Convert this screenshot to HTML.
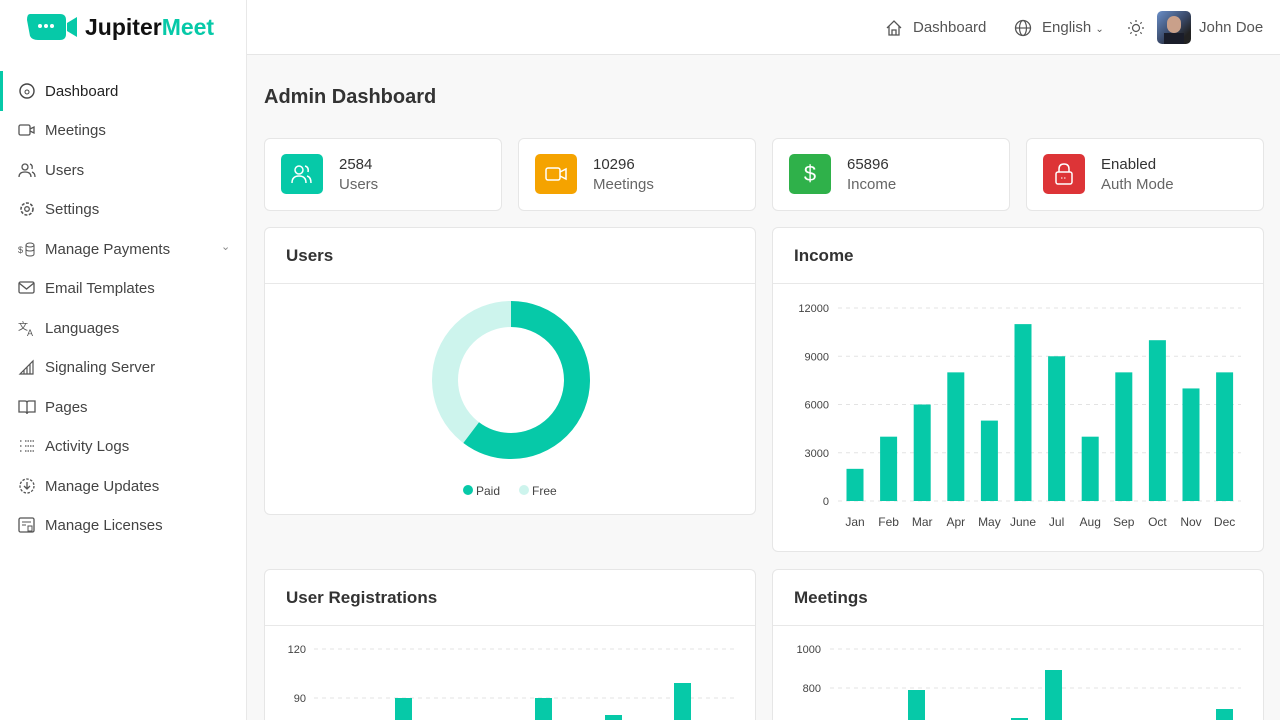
<!DOCTYPE html>
<html style="overflow:hidden;width:1280px;height:720px"><head><meta charset="utf-8"><style>
*{box-sizing:border-box;margin:0;padding:0}
body{width:1280px;height:720px;overflow:hidden;background:#f8f8f8;font-family:"Liberation Sans",sans-serif;color:#333;position:relative}
.side{position:absolute;left:0;top:0;width:247px;height:720px;background:#fff;border-right:1px solid #e8e8e8}
.top{position:absolute;left:247px;top:0;right:0;height:55px;background:#fff;border-bottom:1px solid #e6e6e6}
.nav{position:absolute;left:18px;font-size:15px;color:#444;display:flex;align-items:center}
.nav svg{width:18px;height:18px;margin-right:9px}
.card{position:absolute;background:#fff;border:1px solid #e6e6e6;border-radius:6px;overflow:hidden}
.stat .ic{position:absolute;left:16px;top:15px;width:42px;height:40px;border-radius:5px}
.stat .n{position:absolute;left:74px;top:17px;font-size:15px;color:#333}
.stat .l{position:absolute;left:74px;top:37px;font-size:15px;color:#666}
.ph{height:56px;border-bottom:1px solid #e8e8e8;padding:18px 21px;font-size:17px;font-weight:bold;color:#333}
svg text{font-family:"Liberation Sans",sans-serif}
</style></head><body>
<div class="side">
 <svg style="position:absolute;left:26px;top:12px" width="54" height="31"><path d="M4 2h30q6 0 6 6v14q0 6-6 6H12q-6 0-8-4L1 8q0-6 3-6z" fill="#06c9a8"/><path d="M41 11l10-6v20l-10-6z" fill="#06c9a8"/><circle cx="14" cy="14" r="2" fill="#fff"/><circle cx="20" cy="14" r="2" fill="#fff"/><circle cx="26" cy="14" r="2" fill="#fff"/></svg>
 <div style="position:absolute;left:85px;top:14px;font-size:23px;font-weight:bold;color:#111">Jupiter<span style="color:#06c9a8">Meet</span></div>
 <div style="position:absolute;left:0;top:71px;width:3px;height:40px;background:#06c9a8"></div>
 <div class="nav" style="top:82px;color:#222"><svg viewBox="0 0 18 18"><circle cx="9" cy="9" r="7" fill="none" stroke="#444" stroke-width="1.4"/><circle cx="9" cy="10" r="2" fill="none" stroke="#444"/></svg>Dashboard</div>
 <div class="nav" style="top:121px"><svg viewBox="0 0 18 18"><rect x="1" y="4" width="11" height="10" rx="1.5" fill="none" stroke="#555" stroke-width="1.3"/><path d="M12 8l4-2v6l-4-2" fill="none" stroke="#555" stroke-width="1.3"/></svg>Meetings</div>
 <div class="nav" style="top:161px"><svg viewBox="0 0 18 18"><circle cx="7" cy="6" r="3" fill="none" stroke="#555" stroke-width="1.3"/><path d="M1 16q0-5 6-5t6 5M12 3q3 1 2 5M14 11q3 1 3 5" fill="none" stroke="#555" stroke-width="1.3"/></svg>Users</div>
 <div class="nav" style="top:200px"><svg viewBox="0 0 18 18"><circle cx="9" cy="9" r="6" fill="none" stroke="#555" stroke-width="1.6" stroke-dasharray="3 1.5"/><circle cx="9" cy="9" r="2.3" fill="none" stroke="#555" stroke-width="1.3"/></svg>Settings</div>
 <div class="nav" style="top:240px"><svg viewBox="0 0 18 18"><text x="0" y="13" font-size="9" fill="#555">$</text><ellipse cx="12" cy="5" rx="4" ry="2" fill="none" stroke="#555"/><path d="M8 5v9q0 2 4 2t4-2V5M8 9q0 2 4 2t4-2" fill="none" stroke="#555"/></svg>Manage Payments</div>
 <div style="position:absolute;left:221px;top:240px;font-size:11px;color:#888">⌄</div>
 <div class="nav" style="top:279px"><svg viewBox="0 0 18 18"><rect x="1" y="3" width="15" height="11" rx="1.5" fill="none" stroke="#555" stroke-width="1.3"/><path d="M1 4l7.5 6L16 4" fill="none" stroke="#555" stroke-width="1.3"/></svg>Email Templates</div>
 <div class="nav" style="top:319px"><svg viewBox="0 0 18 18"><text x="0" y="11" font-size="10" fill="#555">文</text><text x="9" y="17" font-size="9" fill="#555">A</text></svg>Languages</div>
 <div class="nav" style="top:358px"><svg viewBox="0 0 18 18"><path d="M2 16L15 3v13zM6 16v-4M9 16V9M12 16V6" fill="none" stroke="#555" stroke-width="1.2"/></svg>Signaling Server</div>
 <div class="nav" style="top:398px"><svg viewBox="0 0 18 18"><path d="M1 3h6q2 0 2 2v11q0-2-2-2H1zM17 3h-6q-2 0-2 2v11q0-2 2-2h6z" fill="none" stroke="#555" stroke-width="1.3"/></svg>Pages</div>
 <div class="nav" style="top:437px"><svg viewBox="0 0 18 18"><path d="M2 4h2M2 9h2M2 14h2M7 4h9M7 9h9M7 14h9" stroke="#555" stroke-width="1.3" stroke-dasharray="1.5 1"/></svg>Activity Logs</div>
 <div class="nav" style="top:477px"><svg viewBox="0 0 18 18"><circle cx="9" cy="9" r="7" fill="none" stroke="#555" stroke-width="1.3" stroke-dasharray="2.5 1.5"/><path d="M9 5v7M6 9l3 3 3-3" fill="none" stroke="#555" stroke-width="1.3"/></svg>Manage Updates</div>
 <div class="nav" style="top:516px"><svg viewBox="0 0 18 18"><rect x="1" y="2" width="15" height="14" rx="1.5" fill="none" stroke="#555" stroke-width="1.3"/><path d="M4 6h9M4 9h4" stroke="#555"/><rect x="10" y="10" width="4" height="5" fill="none" stroke="#555"/></svg>Manage Licenses</div>
</div>
<div class="top">
 <svg style="position:absolute;left:638px;top:19px" width="18" height="18"><path d="M2 9L9 2l7 7M4 7v9h10V7M7 16v-5h4v5" fill="none" stroke="#555" stroke-width="1.3"/></svg>
 <div style="position:absolute;left:666px;top:19px;font-size:15px;color:#555">Dashboard</div>
 <svg style="position:absolute;left:767px;top:19px" width="18" height="18"><circle cx="9" cy="9" r="7.5" fill="none" stroke="#555" stroke-width="1.3"/><ellipse cx="9" cy="9" rx="3.5" ry="7.5" fill="none" stroke="#555" stroke-width="1.2"/><path d="M1.5 9h15" stroke="#555" stroke-width="1.2"/></svg>
 <div style="position:absolute;left:795px;top:19px;font-size:15px;color:#555">English <span style="font-size:10px">⌄</span></div>
 <svg style="position:absolute;left:880px;top:19px" width="18" height="18"><circle cx="9" cy="9" r="3.5" fill="none" stroke="#555" stroke-width="1.2"/><path d="M9 1v2M9 15v2M1 9h2M15 9h2M3.3 3.3l1.4 1.4M13.3 13.3l1.4 1.4M3.3 14.7l1.4-1.4M13.3 4.7l1.4-1.4" stroke="#555" stroke-width="1.2"/></svg>
 <div style="position:absolute;left:910px;top:11px;width:34px;height:33px;border-radius:5px;overflow:hidden;background:linear-gradient(135deg,#6a8fc8,#3a4a6a 50%,#222 80%)"><div style="position:absolute;left:10px;top:5px;width:14px;height:17px;border-radius:7px;background:#c9a08a"></div><div style="position:absolute;left:7px;top:22px;width:20px;height:11px;background:#1a1d2a"></div></div>
 <div style="position:absolute;left:952px;top:19px;font-size:15px;color:#555">John Doe</div>
</div>
<div style="position:absolute;left:264px;top:86px;font-size:20px;font-weight:bold;color:#333">Admin Dashboard</div>

<div class="card stat" style="left:264px;top:138px;width:238px;height:73px"><div class="ic" style="background:#06c9a8"><svg width="42" height="40"><circle cx="18" cy="16" r="4" fill="none" stroke="#fff" stroke-width="1.5"/><path d="M11 29q0-7 7-7t7 7M24 12q4 1 3 6M26 22q4 1 4 7" fill="none" stroke="#fff" stroke-width="1.5"/></svg></div><div class="n">2584</div><div class="l">Users</div></div>
<div class="card stat" style="left:518px;top:138px;width:238px;height:73px"><div class="ic" style="background:#f5a300"><svg width="42" height="40"><rect x="11" y="14" width="14" height="12" rx="2" fill="none" stroke="#fff" stroke-width="1.5"/><path d="M25 18l6-3v10l-6-3" fill="none" stroke="#fff" stroke-width="1.5"/></svg></div><div class="n">10296</div><div class="l">Meetings</div></div>
<div class="card stat" style="left:772px;top:138px;width:238px;height:73px"><div class="ic" style="background:#2fb14a"><div style="color:#fff;font-size:22px;text-align:center;line-height:40px">$</div></div><div class="n">65896</div><div class="l">Income</div></div>
<div class="card stat" style="left:1026px;top:138px;width:238px;height:73px"><div class="ic" style="background:#dd3437"><svg width="42" height="40"><rect x="13" y="18" width="16" height="12" rx="2" fill="none" stroke="#fff" stroke-width="1.5"/><path d="M16 18v-3q0-5 5-5t5 5v3" fill="none" stroke="#fff" stroke-width="1.5"/><path d="M18 24h6" stroke="#fff" stroke-dasharray="1.5 1.5"/></svg></div><div class="n">Enabled</div><div class="l">Auth Mode</div></div>

<div class="card" style="left:264px;top:227px;width:492px;height:288px"><div class="ph">Users</div>
<svg width="490" height="230" style="position:absolute;left:0;top:56px">
<circle cx="246" cy="96" r="66" fill="none" stroke="#cdf4ed" stroke-width="26"/>
<circle cx="246" cy="96" r="66" fill="none" stroke="#06c9a8" stroke-width="26" stroke-dasharray="250 500" transform="rotate(-90 246 96)"/>
<circle cx="203" cy="206" r="5" fill="#06c9a8"/><text x="211" y="211" font-size="12" fill="#444">Paid</text>
<circle cx="259" cy="206" r="5" fill="#cdf4ed"/><text x="267" y="211" font-size="12" fill="#444">Free</text>
</svg></div>

<div class="card" style="left:772px;top:227px;width:492px;height:325px"><div class="ph">Income</div>
<svg width="490" height="268" style="position:absolute;left:0;top:56px" id="inc"></svg></div>

<div class="card" style="left:264px;top:569px;width:492px;height:151px;border-bottom:none;border-radius:6px 6px 0 0"><div class="ph">User Registrations</div>
<svg width="490" height="94" style="position:absolute;left:0;top:56px" id="reg"></svg></div>
<div class="card" style="left:772px;top:569px;width:492px;height:151px;border-bottom:none;border-radius:6px 6px 0 0"><div class="ph">Meetings</div>
<svg width="490" height="94" style="position:absolute;left:0;top:56px" id="mee"></svg></div>
<script>
function g(id,s){document.getElementById(id).innerHTML=s}
var s='',ox=773,oy=283;
[0,3000,6000,9000,12000].forEach(function(v,i){var y=500-i*48.25-oy;s+='<line x1="65" x2="468" y1="'+y+'" y2="'+y+'" stroke="#e3e3e3" stroke-dasharray="4 4"/><text x="56" y="'+(y+4)+'" font-size="11" text-anchor="end" fill="#444">'+v+'</text>'});
var d=[2000,4000,6000,8000,5000,11000,9000,4000,8000,10000,7000,8000],m=['Jan','Feb','Mar','Apr','May','June','Jul','Aug','Sep','Oct','Nov','Dec'];
d.forEach(function(v,i){var cx=855+i*33.6-ox,h=v/1000*16.08;s+='<rect x="'+(cx-8.5)+'" y="'+(500-oy-h)+'" width="17" height="'+h+'" fill="#06c9a8"/><text x="'+cx+'" y="'+(525-oy)+'" font-size="12" text-anchor="middle" fill="#444">'+m[i]+'</text>'});
g('inc',s);
s='';oy=625;ox=264;
[[120,648],[90,697]].forEach(function(a){var y=a[1]-oy;s+='<line x1="49" x2="470" y1="'+y+'" y2="'+y+'" stroke="#e3e3e3" stroke-dasharray="4 4"/><text x="41" y="'+(y+4)+'" font-size="11" text-anchor="end" fill="#444">'+a[0]+'</text>'});
[[394,697],[534,697],[604,714],[673,682]].forEach(function(a){s+='<rect x="'+(a[0]-ox)+'" y="'+(a[1]-oy)+'" width="17" height="'+(94-(a[1]-oy))+'" fill="#06c9a8"/>'});
g('reg',s);
s='';ox=773;
[[1000,648],[800,687]].forEach(function(a){var y=a[1]-oy;s+='<line x1="57" x2="468" y1="'+y+'" y2="'+y+'" stroke="#e3e3e3" stroke-dasharray="4 4"/><text x="48" y="'+(y+4)+'" font-size="11" text-anchor="end" fill="#444">'+a[0]+'</text>'});
[[908,689],[1011,717],[1045,669],[1216,708]].forEach(function(a){s+='<rect x="'+(a[0]-ox)+'" y="'+(a[1]-oy)+'" width="17" height="'+(94-(a[1]-oy))+'" fill="#06c9a8"/>'});
g('mee',s);
</script>
</body></html>
